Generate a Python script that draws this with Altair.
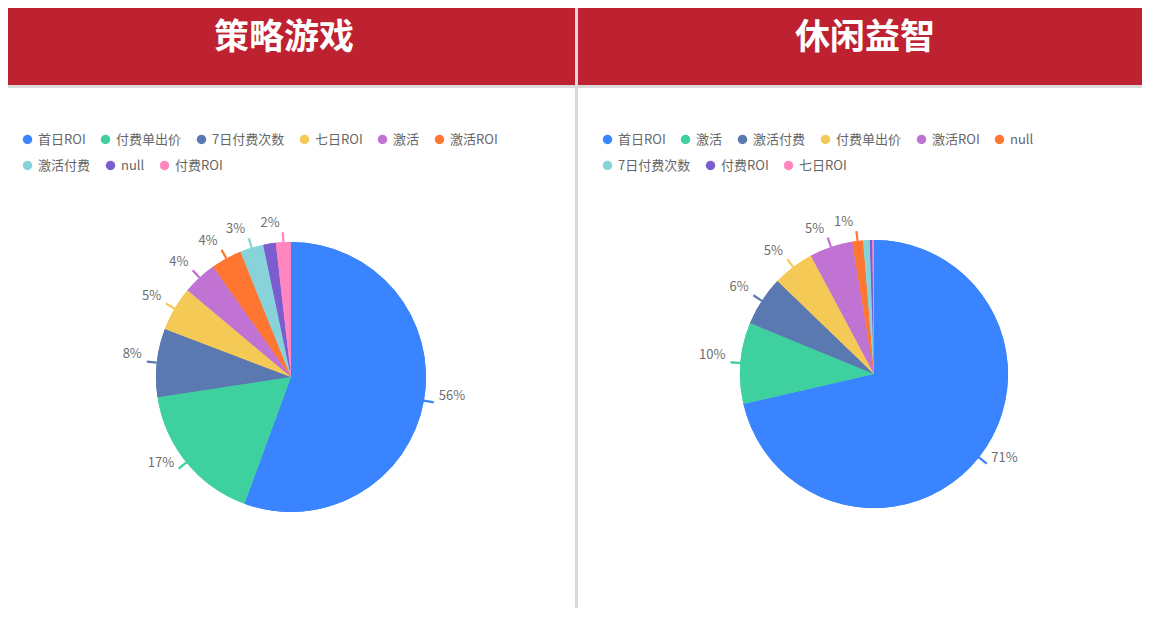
import math
import altair as alt
import pandas as pd

# ---------------- data ----------------
left_title = "策略游戏"
left_cats = ["首日ROI", "付费单出价", "7日付费次数", "七日ROI", "激活", "激活ROI", "激活付费", "null", "付费ROI"]
left_vals = [55.6, 17.0, 8.2, 5.3, 4.1, 3.7, 2.8, 1.5, 1.8]
left_labels = ["56%", "17%", "8%", "5%", "4%", "4%", "3%", "", "2%"]

right_title = "休闲益智"
right_cats = ["首日ROI", "激活", "激活付费", "付费单出价", "激活ROI", "null", "7日付费次数", "付费ROI", "七日ROI"]
right_vals = [71.4, 9.8, 6.0, 5.0, 5.2, 1.3, 0.8, 0.3, 0.2]
right_labels = ["71%", "10%", "6%", "5%", "5%", "1%", "", "", ""]

palette = ["#3A84FF", "#3FD0A0", "#5B79B1", "#F5C955", "#C173D4",
           "#FF7632", "#88D3DA", "#7B5DD0", "#FF86BF"]

FONT = "Noto Sans CJK SC"
RED = "#BE2130"
GRAY = "#DADADA"
H = 600


def legend_cfg(values, lx, ly):
    return alt.Legend(
        title=None, orient="none", legendX=lx, legendY=ly, values=values,
        direction="horizontal", columns=len(values), gridAlign="none",
        symbolType="circle", symbolSize=90, symbolStrokeWidth=0, symbolOpacity=1,
        labelFont=FONT, labelFontSize=13, labelColor="#666666",
        columnPadding=13, rowPadding=12, labelOffset=4)


def panel(title, cats, vals, labels, w, title_x, cx, cy, r, legend_x):
    df = pd.DataFrame({"cat": cats, "v": vals, "lab": labels, "idx": list(range(len(cats)))})
    base = alt.Chart(df)
    one = alt.Chart(pd.DataFrame({"k": [0]}))

    header = one.mark_rect(color=RED).encode(
        x=alt.value(0), x2=alt.value(w), y=alt.value(0), y2=alt.value(77))
    hline = one.mark_rect(color=GRAY).encode(
        x=alt.value(0), x2=alt.value(w), y=alt.value(77), y2=alt.value(80))
    ttl = one.mark_text(font=FONT, fontSize=35, fontWeight="bold", color="white",
                        align="center", baseline="middle").encode(
        x=alt.value(title_x), y=alt.value(30), text=alt.value(title))

    cscale = alt.Scale(domain=cats, range=palette)

    # pie drawn twice: each copy carries one row of the legend
    pie_a = base.mark_arc(outerRadius=r).encode(
        theta=alt.Theta("v:Q", stack=True),
        color=alt.Color("cat:N", scale=cscale, legend=legend_cfg(cats[6:], legend_x, 151)),
        order=alt.Order("idx:Q", sort="ascending"),
        x=alt.value(cx), y=alt.value(cy))
    pie_b = base.mark_arc(outerRadius=r).encode(
        theta=alt.Theta("v:Q", stack=True),
        color=alt.Color("cat:N", scale=cscale, legend=legend_cfg(cats[:6], legend_x, 125)),
        order=alt.Order("idx:Q", sort="ascending"),
        x=alt.value(cx), y=alt.value(cy))

    with_mid = base.transform_window(
        cum="sum(v)", sort=[alt.SortField("idx", order="ascending")]
    ).transform_joinaggregate(tot="sum(v)").transform_calculate(
        m="(datum.cum - datum.v / 2) / datum.tot * 2 * PI",
        a="datum.m - 0.008", b="datum.m + 0.008",
        rlab="datum.m < PI ? datum.lab : ''",
        llab="datum.m >= PI ? datum.lab : ''",
    )

    txt_r = with_mid.mark_text(radius=r + 12, dx=3, dy=-7, align="left", baseline="middle",
                               font=FONT, fontSize=13, color="#6E6E6E").encode(
        theta=alt.Theta("v:Q", stack=True),
        order=alt.Order("idx:Q", sort="ascending"),
        text="rlab:N",
        x=alt.value(cx), y=alt.value(cy))
    txt_l = with_mid.mark_text(radius=r + 12, dx=-3, dy=-7, align="right", baseline="middle",
                               font=FONT, fontSize=13, color="#6E6E6E").encode(
        theta=alt.Theta("v:Q", stack=True),
        order=alt.Order("idx:Q", sort="ascending"),
        text="llab:N",
        x=alt.value(cx), y=alt.value(cy))

    ticks = with_mid.transform_filter("datum.lab != ''").mark_arc(
        innerRadius=r, outerRadius=r + 10).encode(
        theta=alt.Theta("a:Q", scale=alt.Scale(domain=[0, 2 * math.pi], range=[0, 2 * math.pi]), stack=None),
        theta2="b:Q",
        color=alt.Color("cat:N", scale=cscale, legend=None),
        x=alt.value(cx), y=alt.value(cy))

    return alt.layer(header, hline, ttl, pie_a, pie_b, ticks, txt_r, txt_l).resolve_scale(
        theta="independent", color="independent").resolve_legend(
        color="independent").properties(width=w, height=H)


left = panel(left_title, left_cats, left_vals, left_labels, 567, 276, 283, 369, 135, 13)
right = panel(right_title, right_cats, right_vals, right_labels, 564, 287, 296, 366, 134, 23)

chart = alt.hconcat(left, right, spacing=3).resolve_scale(
    color="independent").properties(
    background=GRAY, padding=0
).configure_view(stroke=None, fill="white")

chart.save("out.html", embed_options={"renderer": "svg", "actions": False})
